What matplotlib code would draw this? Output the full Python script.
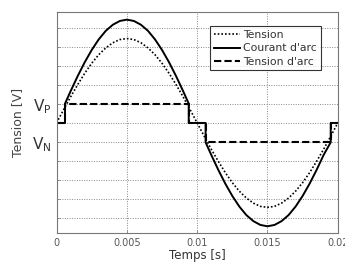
import matplotlib
matplotlib.use("Agg")
import matplotlib.pyplot as plt

# time axis in seconds (samples read every 0.5 ms)
t = [0.0000, 0.0005, 0.0010, 0.0015, 0.0020, 0.0025, 0.0030, 0.0035, 0.0040, 0.0045,
     0.0050, 0.0055, 0.0060, 0.0065, 0.0070, 0.0075, 0.0080, 0.0085, 0.0090, 0.0095,
     0.0100, 0.0105, 0.0110, 0.0115, 0.0120, 0.0125, 0.0130, 0.0135, 0.0140, 0.0145,
     0.0150, 0.0155, 0.0160, 0.0165, 0.0170, 0.0175, 0.0180, 0.0185, 0.0190, 0.0195,
     0.0200]

tension = [0.00, 0.70, 1.38, 2.02, 2.62, 3.15, 3.60, 3.96, 4.23, 4.40,
           4.45, 4.40, 4.23, 3.96, 3.60, 3.15, 2.62, 2.02, 1.38, 0.70,
           0.00, -0.70, -1.38, -2.02, -2.62, -3.15, -3.60, -3.96, -4.23, -4.40,
           -4.45, -4.40, -4.23, -3.96, -3.60, -3.15, -2.62, -2.02, -1.38, -0.70,
           0.00]

# arc current: zero while the arc is off, then follows the sine
courant_t = [0.0000, 0.0006, 0.0006, 0.0010, 0.0015, 0.0020, 0.0025, 0.0030, 0.0035,
             0.0040, 0.0045, 0.0050, 0.0055, 0.0060, 0.0065, 0.0070, 0.0075, 0.0080,
             0.0085, 0.0090, 0.0094, 0.0094, 0.0106, 0.0106, 0.0110, 0.0115, 0.0120,
             0.0125, 0.0130, 0.0135, 0.0140, 0.0145, 0.0150, 0.0155, 0.0160, 0.0165,
             0.0170, 0.0175, 0.0180, 0.0185, 0.0190, 0.0195, 0.0195, 0.0200]
courant = [0.00, 0.00, 1.02, 1.68, 2.47, 3.20, 3.85, 4.41, 4.86,
           5.18, 5.38, 5.45, 5.38, 5.18, 4.86, 4.41, 3.85, 3.20,
           2.47, 1.68, 1.02, 0.00, 0.00, -1.02, -1.68, -2.47, -3.20,
           -3.85, -4.41, -4.86, -5.18, -5.38, -5.45, -5.38, -5.18, -4.86,
           -4.41, -3.85, -3.20, -2.47, -1.68, -1.02, 0.00, 0.00]

# arc voltage: V_P / 0 / V_N steps
arc_t = [0.0000, 0.0006, 0.0006, 0.0094, 0.0094, 0.0106, 0.0106, 0.0195, 0.0195, 0.0200]
arc_v = [0, 0, 1, 1, 0, 0, -1, -1, 0, 0]

x_ticks = [0, 0.005, 0.01, 0.015, 0.02]
x_labels = ["0", "0.005", "0.01", "0.015", "0.02"]
y_ticks = [-5, -4, -3, -2, -1, 0, 1, 2, 3, 4, 5]
y_labels = ["", "", "", "", "V$_\\mathregular{N}$", "", "V$_\\mathregular{P}$", "", "", "", ""]

fig = plt.figure(figsize=(3.45, 2.62), dpi=100)
ax = fig.add_axes([0.164, 0.111, 0.815, 0.843])

ax.plot(t, tension, color="black", linestyle=(0, (1, 1.2)), linewidth=1.2, label="Tension")
ax.plot(courant_t, courant, color="black", linestyle="-", linewidth=1.4, label="Courant d'arc")
ax.plot(arc_t, arc_v, color="black", linestyle=(0, (3.5, 1.5)), linewidth=1.5, label="Tension d'arc")

ax.set_xlim(0, 0.02)
ax.set_ylim(-5.8, 5.85)
ax.set_xticks(x_ticks)
ax.set_xticklabels(x_labels, fontsize=7, color="#555555")
ax.set_yticks(y_ticks)
ax.set_yticklabels(y_labels, fontsize=11, color="#333333")
ax.tick_params(direction="in", length=2, width=0.5, colors="#777777")
for lab in ax.get_xticklabels():
    lab.set_color("#555555")
for lab in ax.get_yticklabels():
    lab.set_color("#333333")
ax.grid(True, color="#888888", linestyle=(0, (1, 1.5)), linewidth=0.7)
for s in ax.spines.values():
    s.set_color("#777777")
    s.set_linewidth(0.8)

ax.set_xlabel("Temps [s]", fontsize=8.5, color="#333333", labelpad=1)
ax.set_ylabel("Tension [V]", fontsize=9, color="#444444", labelpad=6)

leg = ax.legend(loc="upper right", bbox_to_anchor=(0.94, 0.935), fontsize=7.8, frameon=True,
                fancybox=False, edgecolor="black", handlelength=2.4, handletextpad=0.3,
                borderpad=0.35, labelspacing=0.3, borderaxespad=0)
leg.get_frame().set_linewidth(0.8)
for txt in leg.get_texts():
    txt.set_color("#333333")

fig.savefig("out.png", dpi=100)
